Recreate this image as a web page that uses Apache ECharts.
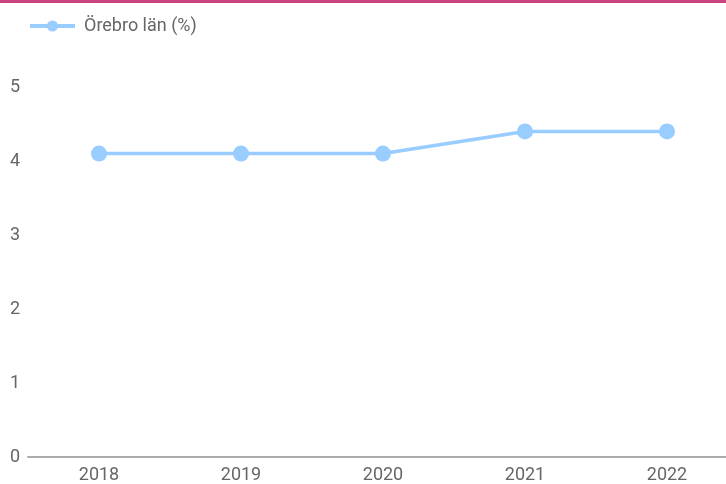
<!DOCTYPE html>
<html><head><meta charset="utf-8">
<script src="https://cdn.jsdelivr.net/npm/echarts@6/dist/echarts.min.js"></script>
<style>html,body{margin:0;padding:0;background:#fff;overflow:hidden;width:726px;height:484px}#c{width:738px;height:484px;position:absolute;top:0;left:0}#top{height:3px;background:#c9437f;position:absolute;top:0;left:0;width:726px;z-index:5}</style>
</head><body><div id="c"></div><div id="top"></div>
<script>
const categories = ['2018','2019','2020','2021','2022'];
const seriesName = 'Örebro län (%)';
const values = [4.1, 4.1, 4.1, 4.4, 4.4];
const yTicks = [0,1,2,3,4,5];
const chart = echarts.init(document.getElementById('c'));
chart.setOption({
  animation:false,
  textStyle:{fontFamily:'Roboto'},
  legend:{left:23,top:12,itemWidth:45,itemHeight:14,
    lineStyle:{width:4},
    textStyle:{fontSize:18,color:'#666',fontFamily:'Roboto',padding:[0,0,0,4]},
    data:[seriesName]},
  grid:{left:28,right:0,top:87,bottom:24,containLabel:false},
  xAxis:{type:'category',data:categories,boundaryGap:true,
    axisLine:{lineStyle:{color:'#aaa',width:2}},axisTick:{show:false},
    axisLabel:{fontSize:18,color:'#666',margin:9,fontFamily:'Roboto'}},
  yAxis:{type:'value',min:yTicks[0],max:yTicks[yTicks.length-1],interval:1,
    splitLine:{show:false},axisLine:{show:false},axisTick:{show:false},
    axisLabel:{fontSize:18,color:'#666',margin:8,fontFamily:'Roboto'}},
  series:[{name:seriesName,type:'line',data:values,symbol:'circle',symbolSize:16,
    lineStyle:{color:'#99ccff',width:3.5},itemStyle:{color:'#99ccff'}}]
});
</script></body></html>
